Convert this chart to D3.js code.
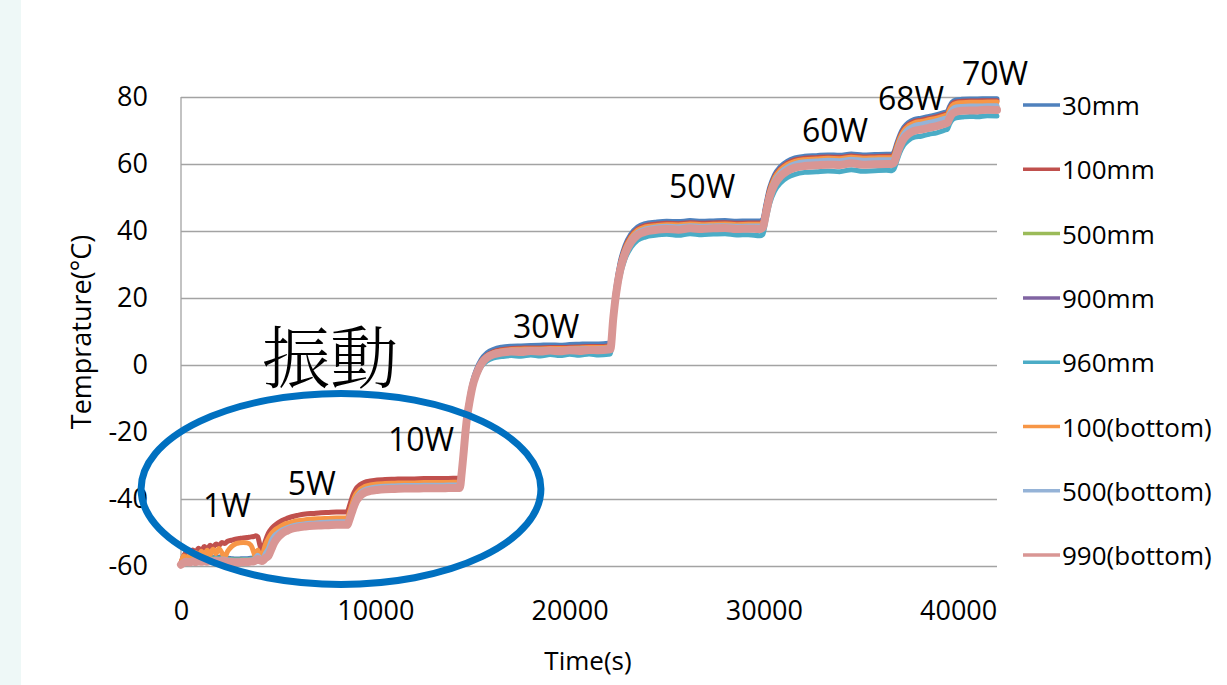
<!DOCTYPE html>
<html>
<head>
<meta charset="utf-8">
<script src="https://cdn.jsdelivr.net/npm/d3@7"></script>
<style>
  html, body { margin: 0; padding: 0; background: #ffffff; }
  svg { display: block; }
</style>
</head>
<body>
<svg id="chart" width="1227" height="685"></svg>
<script>
// Sample times (s), shared by every probe
const time = [
  // 1W
  0,150,300,450,600,750,900,1050,1200,1350,
  1500,1650,1800,1950,2100,2250,2400,2600,2800,3000,
  3200,3400,3600,3750,3850,3950,4050,4150,4250,4350,
  // 5W
  4500,4650,4800,5000,5200,5450,5700,6000,6400,6800,
  7200,7600,8000,8400,8550,
  // 10W
  8700,8850,9000,9200,9450,9750,10100,10500,11000,11500,
  12000,12500,13000,13500,14000,14350,
  // 30W
  14450,14550,14650,14750,14850,15000,15200,15450,15750,16100,
  16500,17000,17500,18000,18500,19000,19500,20000,20500,21000,
  21500,22000,
  // 50W
  22100,22250,22400,22600,22850,23150,23500,23900,24400,25000,
  25600,26200,26800,27400,28000,28600,29200,29800,
  // 60W
  29950,30100,30300,30550,30850,31200,31600,32100,32700,33300,
  33900,34500,35100,35700,36300,36600,
  // 68W
  36700,36850,37000,37200,37450,37750,38100,38500,38900,39300,
  39450,
  // 70W
  39550,39700,39900,40200,40600,41000,41500,42000
];

// Temperatures (°C) per probe
const t30mm = [
  -59.3,-58.1,-57.8,-57.9,-57.6,-57.8,-57.5,-57.7,-57.4,-57.6,
  -57.3,-57.5,-57.3,-57.4,-57.2,-57.5,-57.7,-57.8,-57.9,-57.9,
  -57.8,-57.8,-57.7,-57.5,-57.1,-56.6,-57.0,-57.4,-56.7,-55.6,
  -53.6,-51.5,-50.2,-49.2,-48.5,-47.9,-47.4,-47.0,-46.7,-46.5,
  -46.4,-46.3,-46.2,-46.2,-46.1,
  -43.9,-41.2,-39.1,-37.6,-36.7,-36.2,-35.9,-35.8,-35.7,-35.6,
  -35.6,-35.5,-35.5,-35.5,-35.4,-35.4,
  -31.0,-24.6,-18.0,-13.0,-9.4,-5.0,-1.4,1.6,3.6,4.7,
  5.3,5.6,5.7,5.8,5.9,6.0,5.9,6.1,6.2,6.3,
  6.3,6.5,
  6.8,16.2,23.8,30.6,35.6,39.0,41.2,42.2,42.6,42.9,
  42.8,43.1,42.9,43.0,43.1,42.9,43.0,43.0,
  43.6,47.8,53.0,56.8,59.2,60.8,61.8,62.3,62.5,62.7,
  62.6,63.0,62.7,62.8,62.9,62.9,
  63.6,66.3,68.7,70.9,72.4,73.3,73.7,74.2,74.7,75.4,
  75.7,
  77.1,78.5,79.1,79.3,79.4,79.4,79.5,79.5
];
const t100mm = [
  -59.0,-56.8,-55.9,-56.6,-55.2,-56.0,-54.7,-55.4,-54.2,-54.9,
  -53.8,-54.4,-53.4,-53.9,-53.0,-53.3,-52.6,-52.3,-52.0,-51.8,
  -51.6,-51.5,-51.3,-51.2,-51.0,-51.3,-53.5,-55.2,-54.2,-52.4,
  -50.2,-48.9,-48.0,-47.1,-46.4,-45.8,-45.3,-44.9,-44.5,-44.3,
  -44.1,-44.0,-43.9,-43.9,-43.8,
  -41.5,-38.8,-37.0,-35.8,-35.0,-34.6,-34.3,-34.2,-34.1,-34.0,
  -34.0,-33.9,-33.9,-33.9,-33.8,-33.8,
  -31.2,-25.0,-18.5,-13.5,-9.9,-5.5,-1.9,1.0,2.9,4.0,
  4.6,4.9,5.0,5.1,5.1,5.2,5.2,5.3,5.4,5.5,
  5.5,5.7,
  6.0,15.6,23.2,30.0,35.0,38.4,40.6,41.6,42.0,42.3,
  42.2,42.5,42.3,42.4,42.5,42.3,42.4,42.4,
  43.0,47.2,52.4,56.2,58.6,60.2,61.2,61.7,61.9,62.1,
  62.0,62.4,62.1,62.2,62.3,62.3,
  63.0,65.7,68.1,70.3,71.8,72.7,73.1,73.6,74.1,74.8,
  75.1,
  76.5,77.9,78.5,78.7,78.8,78.8,78.9,78.9
];
const t500mm = [
  -59.4,-58.4,-58.1,-58.2,-58.0,-58.1,-57.9,-58.0,-57.8,-57.9,
  -57.7,-57.8,-57.7,-57.8,-57.6,-57.8,-58.0,-58.1,-58.2,-58.2,
  -58.1,-58.1,-58.0,-57.8,-57.3,-56.9,-57.3,-57.7,-57.0,-55.9,
  -54.2,-52.0,-50.6,-49.6,-48.9,-48.3,-47.8,-47.4,-47.1,-46.9,
  -46.8,-46.7,-46.6,-46.6,-46.6,
  -44.4,-41.7,-39.6,-38.0,-37.0,-36.5,-36.2,-36.0,-35.9,-35.8,
  -35.8,-35.7,-35.7,-35.7,-35.6,-35.6,
  -31.9,-25.8,-19.3,-14.3,-10.7,-6.3,-2.7,0.4,2.3,3.3,
  3.8,4.1,4.2,4.3,4.3,4.4,4.4,4.5,4.6,4.7,
  4.7,4.9,
  5.0,14.4,22.0,28.7,33.7,37.1,39.3,40.3,40.8,41.1,
  41.0,41.3,41.1,41.2,41.3,41.1,41.2,41.2,
  41.6,45.7,50.9,54.7,57.1,58.7,59.7,60.3,60.5,60.7,
  60.6,61.0,60.7,60.8,60.9,60.9,
  61.5,64.1,66.5,68.7,70.2,71.1,71.5,72.0,72.5,73.2,
  73.5,
  74.7,76.0,76.6,76.8,76.9,76.9,77.0,77.0
];
const t900mm = [
  -59.5,-58.6,-58.4,-58.5,-58.3,-58.4,-58.2,-58.3,-58.1,-58.2,
  -58.0,-58.1,-58.0,-58.1,-57.9,-58.1,-58.3,-58.4,-58.5,-58.5,
  -58.4,-58.4,-58.3,-58.1,-57.7,-57.2,-57.7,-58.0,-57.4,-56.4,
  -55.0,-52.8,-51.3,-50.2,-49.4,-48.8,-48.3,-47.9,-47.6,-47.4,
  -47.3,-47.2,-47.1,-47.1,-47.1,
  -44.9,-42.2,-40.1,-38.5,-37.5,-37.0,-36.7,-36.5,-36.4,-36.3,
  -36.3,-36.2,-36.2,-36.2,-36.1,-36.1,
  -32.1,-26.0,-19.6,-14.6,-11.0,-6.6,-3.0,0.1,2.0,3.0,
  3.5,3.8,3.8,4.0,3.9,4.1,4.0,4.2,4.1,4.3,
  4.3,4.4,
  4.4,13.8,21.3,28.0,33.0,36.4,38.6,39.6,40.1,40.4,
  40.3,40.6,40.4,40.6,40.7,40.4,40.5,40.4,
  40.8,44.8,50.0,53.7,56.1,57.7,58.7,59.3,59.5,59.7,
  59.6,60.1,59.7,59.8,59.9,59.9,
  60.3,62.8,65.2,67.4,68.9,69.8,70.2,70.7,71.2,71.9,
  72.2,
  73.5,74.9,75.5,75.8,75.9,75.9,76.1,76.0
];
const t960mm = [
  -59.4,-58.5,-58.2,-58.4,-58.1,-58.3,-58.0,-58.2,-57.9,-58.1,
  -57.9,-58.0,-57.8,-58.0,-57.8,-57.9,-58.1,-58.2,-58.3,-58.3,
  -58.2,-58.2,-58.1,-57.9,-57.4,-57.0,-57.5,-57.8,-57.2,-56.2,
  -54.6,-52.4,-51.0,-50.0,-49.3,-48.7,-48.2,-47.8,-47.5,-47.3,
  -47.2,-47.1,-47.0,-47.0,-47.0,
  -44.8,-42.1,-40.0,-38.4,-37.4,-36.9,-36.6,-36.4,-36.3,-36.2,
  -36.2,-36.1,-36.1,-36.1,-36.0,-36.0,
  -32.4,-26.4,-20.0,-15.0,-11.4,-7.2,-3.6,-0.6,1.2,2.1,
  2.5,2.8,2.6,3.0,2.7,3.1,2.8,3.2,2.9,3.3,
  3.0,3.2,
  3.3,12.6,20.0,26.6,31.6,35.0,37.2,38.2,38.7,39.0,
  38.7,39.2,38.9,39.1,39.2,38.8,38.9,38.6,
  39.0,43.0,48.2,51.9,54.3,55.9,56.9,57.5,57.7,57.9,
  57.7,58.3,57.8,58.0,58.1,58.0,
  58.5,61.0,63.4,65.6,67.1,68.0,68.3,68.9,69.3,70.1,
  70.4,
  71.8,73.2,73.8,74.0,74.2,74.1,74.4,74.3
];
const t100bottom = [
  -59.2,-57.0,-58.0,-56.4,-57.6,-56.0,-57.2,-55.6,-56.9,-55.3,
  -56.6,-55.0,-56.3,-54.8,-56.0,-57.4,-55.6,-54.2,-53.4,-53.1,
  -53.0,-53.1,-53.8,-56.0,-57.6,-55.2,-56.8,-57.3,-55.6,-53.6,
  -51.8,-50.4,-49.4,-48.6,-47.9,-47.3,-46.9,-46.5,-46.2,-46.0,
  -45.9,-45.8,-45.7,-45.7,-45.6,
  -43.4,-40.6,-38.6,-37.2,-36.3,-35.8,-35.5,-35.4,-35.3,-35.2,
  -35.2,-35.1,-35.1,-35.1,-35.0,-35.0,
  -31.5,-25.3,-18.8,-13.8,-10.2,-5.8,-2.2,0.8,2.7,3.7,
  4.3,4.6,4.7,4.8,4.8,4.9,4.9,5.0,5.1,5.2,
  5.2,5.4,
  5.7,15.2,22.8,29.6,34.6,38.0,40.2,41.2,41.6,41.9,
  41.8,42.1,41.9,42.0,42.1,41.9,42.0,42.0,
  42.6,46.8,52.0,55.8,58.2,59.8,60.8,61.3,61.5,61.7,
  61.6,62.0,61.7,61.8,61.9,61.9,
  62.6,65.3,67.7,69.9,71.4,72.3,72.7,73.2,73.7,74.4,
  74.7,
  76.1,77.5,78.1,78.3,78.4,78.4,78.5,78.5
];
const t500bottom = [
  -59.4,-58.6,-58.3,-58.5,-58.2,-58.4,-58.1,-58.3,-58.0,-58.2,
  -58.0,-58.1,-57.9,-58.1,-57.9,-58.0,-58.2,-58.3,-58.4,-58.4,
  -58.3,-58.3,-58.2,-58.0,-57.5,-56.8,-57.6,-58.0,-57.4,-56.2,
  -54.8,-52.4,-51.0,-50.0,-49.2,-48.6,-48.1,-47.7,-47.4,-47.2,
  -47.0,-46.9,-46.8,-46.8,-46.8,
  -44.6,-42.0,-39.8,-38.2,-37.2,-36.7,-36.4,-36.2,-36.1,-36.0,
  -36.0,-35.9,-35.9,-35.9,-35.8,-35.8,
  -31.8,-25.6,-19.1,-14.1,-10.5,-6.1,-2.5,0.6,2.5,3.5,
  4.0,4.3,4.4,4.5,4.5,4.6,4.6,4.7,4.8,4.9,
  4.9,5.1,
  5.3,14.7,22.3,29.0,34.0,37.4,39.6,40.6,41.1,41.4,
  41.3,41.6,41.4,41.5,41.6,41.4,41.5,41.5,
  42.0,46.1,51.3,55.1,57.5,59.1,60.1,60.7,60.9,61.1,
  61.0,61.4,61.1,61.2,61.3,61.3,
  61.9,64.5,66.9,69.1,70.6,71.5,71.9,72.4,72.9,73.6,
  73.9,
  75.1,76.4,77.0,77.2,77.3,77.3,77.4,77.4
];
const t990bottom = [
  -59.6,-59.0,-58.8,-58.9,-58.7,-58.8,-58.6,-58.7,-58.6,-58.7,
  -58.5,-58.6,-58.5,-58.6,-58.4,-58.6,-58.7,-58.8,-58.9,-58.9,
  -58.8,-58.8,-58.7,-58.6,-58.3,-57.9,-58.3,-58.5,-58.2,-57.6,
  -57.0,-55.0,-53.0,-51.4,-50.3,-49.5,-48.9,-48.5,-48.2,-48.0,
  -47.9,-47.8,-47.7,-47.7,-47.7,
  -45.6,-43.0,-40.8,-39.2,-38.1,-37.6,-37.3,-37.1,-37.0,-36.9,
  -36.9,-36.8,-36.8,-36.8,-36.7,-36.7,
  -32.0,-26.0,-19.5,-14.5,-11.0,-6.5,-2.8,0.3,2.2,3.2,
  3.7,4.0,3.9,4.2,4.0,4.3,4.1,4.4,4.2,4.5,
  4.4,4.6,
  4.7,14.0,21.5,28.2,33.2,36.6,38.8,39.8,40.3,40.6,
  40.4,40.8,40.6,40.8,40.9,40.6,40.7,40.6,
  41.0,45.0,50.2,53.9,56.3,57.9,58.9,59.4,59.6,59.8,
  59.7,60.2,59.8,59.9,60.0,60.0,
  60.4,62.9,65.3,67.5,69.0,69.9,70.3,70.8,71.3,72.0,
  72.3,
  73.6,75.0,75.6,75.9,76.0,76.0,76.2,76.1
];

const seriesNames = ["30mm", "100mm", "500mm", "900mm", "960mm", "100(bottom)", "500(bottom)", "990(bottom)"];
const seriesValues = [t30mm, t100mm, t500mm, t900mm, t960mm, t100bottom, t500bottom, t990bottom];
const seriesColors = ["#4F81BD", "#C0504D", "#9BBB59", "#8064A2", "#4BACC6", "#F79646", "#95B3D7", "#D99694"];

const yTicks = [-60, -40, -20, 0, 20, 40, 60, 80];
const xTicks = [0, 10000, 20000, 30000, 40000];

// Heater power steps, anchored at (time, temperature)
const powerLabels = ["1W", "5W", "10W", "30W", "50W", "60W", "68W", "70W"];
const powerLabelTime = [1130, 5500, 10650, 17090, 25120, 31960, 35870, 40200];
const powerLabelTemp = [-45.4, -38.8, -25.7, 8.1, 49.9, 66.6, 76.1, 83.6];

const svg = d3.select("#chart");
const W = 1227, H = 685;
const margin = { left: 181, right: 230, top: 97, bottom: 119 };
const plotW = W - margin.left - margin.right;
const plotH = H - margin.top - margin.bottom;

svg.append("rect").attr("width", W).attr("height", H).attr("fill", "#ffffff");
svg.append("rect").attr("x", 0).attr("y", 0).attr("width", 21).attr("height", H).attr("fill", "#eef8f7");

const x = d3.scaleLinear().domain([0, 42000]).range([margin.left, margin.left + plotW]);
const y = d3.scaleLinear().domain([-60, 80]).range([margin.top + plotH, margin.top]);

const tickFont = "'Open Sans', 'Liberation Sans', sans-serif";
const plainNumber = d => String(d);

// Horizontal gridlines with labels
const yAxis = svg.append("g")
  .attr("transform", `translate(${margin.left},0)`)
  .call(d3.axisLeft(y).tickValues(yTicks).tickSize(-plotW).tickPadding(33).tickFormat(plainNumber));
yAxis.select(".domain").remove();
yAxis.selectAll(".tick line").attr("stroke", "#a3a3a3").attr("stroke-width", 1.3);
yAxis.selectAll(".tick text").attr("font-family", tickFont).attr("font-size", 27).attr("fill", "#000");

// Vertical axis line
svg.append("line")
  .attr("x1", margin.left).attr("x2", margin.left)
  .attr("y1", y(80)).attr("y2", y(-60))
  .attr("stroke", "#a3a3a3").attr("stroke-width", 1.3);

const xAxis = svg.append("g")
  .attr("transform", `translate(0,${margin.top + plotH})`)
  .call(d3.axisBottom(x).tickValues(xTicks).tickSize(0).tickPadding(35).tickFormat(plainNumber));
xAxis.select(".domain").remove();
xAxis.selectAll(".tick text").attr("font-family", tickFont).attr("font-size", 27).attr("fill", "#000");

// Axis titles
svg.append("text")
  .attr("x", 588).attr("y", 660)
  .attr("text-anchor", "middle").attr("dominant-baseline", "central")
  .attr("font-family", tickFont).attr("font-size", 26).attr("fill", "#000")
  .text("Time(s)");
svg.append("text")
  .attr("transform", "translate(80,332) rotate(-90)")
  .attr("text-anchor", "middle").attr("dominant-baseline", "central")
  .attr("font-family", tickFont).attr("font-size", 27).attr("fill", "#000")
  .text("Temprature(°C)");

// Temperature traces
const line = d3.line()
  .x((d, i) => x(time[i]))
  .y(d => y(d))
  .curve(d3.curveMonotoneX);

const traces = svg.append("g");
seriesValues.forEach((vals, k) => {
  traces.append("path")
    .datum(vals)
    .attr("d", line)
    .attr("fill", "none")
    .attr("stroke", seriesColors[k])
    .attr("stroke-width", k === 7 ? 8 : 5)
    .attr("stroke-linejoin", "round")
    .attr("stroke-linecap", "round");
});

// Legend
const legend = svg.append("g");
seriesNames.forEach((name, k) => {
  const ly = 105 + k * 64.3;
  legend.append("line")
    .attr("x1", 1023).attr("x2", 1060).attr("y1", ly).attr("y2", ly)
    .attr("stroke", seriesColors[k]).attr("stroke-width", 3.5);
  legend.append("text")
    .attr("x", 1062).attr("y", ly)
    .attr("dominant-baseline", "central")
    .attr("font-family", tickFont).attr("font-size", 26).attr("fill", "#000")
    .text(name);
});

// Power step labels
powerLabels.forEach((lab, k) => {
  svg.append("text")
    .attr("x", x(powerLabelTime[k])).attr("y", y(powerLabelTemp[k]))
    .attr("font-family", tickFont).attr("font-size", 32).attr("fill", "#000")
    .text(lab);
});

// Oscillation region marker
const ringCenterT = 8235, ringCenterV = -37;
const ringHalfT = 10290, ringHalfV = 28.5;
svg.append("ellipse")
  .attr("cx", x(ringCenterT)).attr("cy", y(ringCenterV))
  .attr("rx", x(ringHalfT) - x(0)).attr("ry", y(ringCenterV - ringHalfV) - y(ringCenterV))
  .attr("fill", "none").attr("stroke", "#0070C0").attr("stroke-width", 7);

svg.append("text")
  .attr("x", 262).attr("y", 383)
  .attr("font-family", "'Noto Serif CJK JP', 'Noto Sans CJK JP', serif")
  .attr("font-weight", 300)
  .attr("font-size", 68).attr("fill", "#000")
  .text("振動");
</script>
</body>
</html>
